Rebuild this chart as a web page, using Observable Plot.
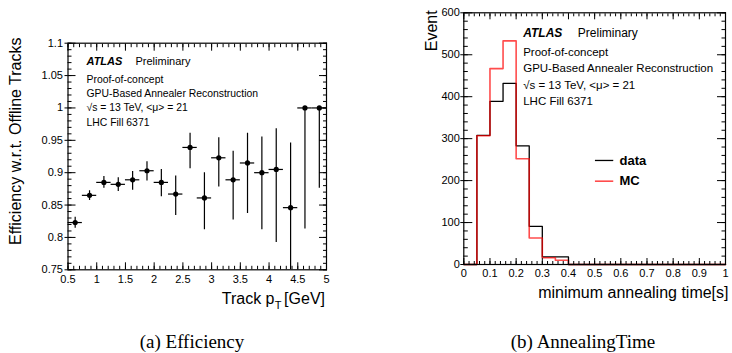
<!DOCTYPE html>
<html><head><meta charset="utf-8">
<script src="https://cdn.jsdelivr.net/npm/d3@7"></script>
<script src="https://cdn.jsdelivr.net/npm/@observablehq/plot@0.6"></script>
<style>
body{margin:0;background:#fff;}
#wrap{position:relative;width:732px;height:353px;overflow:hidden;background:#fff;}
#left,#right{position:absolute;top:0;}
#left{left:0}#right{left:366px}
.cap{position:absolute;font-family:"Liberation Serif","Times New Roman",serif;font-size:19px;line-height:1;white-space:nowrap;transform:translate(-50%,-50%);color:#000}
svg{display:block;overflow:visible}
</style></head><body>
<div id="wrap"><div id="left"></div><div id="right"></div>
<div class="cap" style="left:192px;top:341px">(a) Efficiency</div>
<div class="cap" style="left:583px;top:341px">(b) AnnealingTime</div></div>
<script>
// ---- Panel (a): efficiency vs track pT ----
const ptCenters = [0.625,0.875,1.125,1.375,1.625,1.875,2.125,2.375,2.625,2.875,3.125,3.375,3.625,3.875,4.125,4.375,4.625,4.875];
const ptBinWidth = 0.25;
const effValues = [0.823,0.865,0.885,0.882,0.889,0.903,0.885,0.867,0.939,0.861,0.923,0.889,0.915,0.900,0.905,0.846,1.000,1.000];
const effLow    = [0.814,0.857,0.876,0.871,0.873,0.887,0.863,0.834,0.906,0.812,0.878,0.827,0.837,0.812,0.792,0.740,0.813,0.876];
const effHigh   = [0.831,0.872,0.894,0.892,0.902,0.917,0.905,0.895,0.961,0.900,0.954,0.933,0.961,0.955,0.968,0.946,1.000,1.000];
const effXTicks = [0.5,1,1.5,2,2.5,3,3.5,4,4.5,5];
const effYTicks = [0.75,0.8,0.85,0.9,0.95,1,1.05,1.1];

// ---- Panel (b): minimum annealing time histogram ----
const timeBinLow = [0,0.05,0.1,0.15,0.2,0.25,0.3,0.35,0.4,0.45,0.5,0.55,0.6,0.65,0.7,0.75,0.8,0.85,0.9,0.95];
const timeMax = 1.0;
const dataCounts = [0,308,389,432,283,91,18,18,0,0,0,0,0,0,0,0,0,0,0,0];
const mcCounts   = [0,307,467,533,252,63,16,10,0,0,0,0,0,0,0,0,0,0,0,0];
const timeXTicks = [0,0.1,0.2,0.3,0.4,0.5,0.6,0.7,0.8,0.9,1];
const timeYTicks = [0,100,200,300,400,500,600];

const infoLines = ["Proof-of-concept","GPU-Based Annealer Reconstruction","√s = 13 TeV, <μ> = 21","LHC Fill 6371"];
const legendNames = ["data","MC"];
const legendColors = ["black","#ff0000"];

const font = "Liberation Sans, Arial, sans-serif";
const fmt = d => String(d);

function tickAxes(axis, ticks, anchors, size) {
  return anchors.map(a => axis(ticks, {anchor: a, tickSize: size, tickFormat: () => "", label: null, strokeWidth: 1}));
}

// ---------- Left plot ----------
const eff = ptCenters.map((x, i) => ({x, v: effValues[i], lo: effLow[i], hi: effHigh[i]}));
const xMinorA = d3.range(0.5, 5.0001, 0.1);
const yMinorA = d3.range(0.75, 1.1001, 0.01);

const left = Plot.plot({
  width: 366, height: 310,
  marginLeft: 67.5, marginRight: 40, marginTop: 42.7, marginBottom: 40.7,
  style: {fontFamily: font, fontSize: "11px", background: "white", color: "black"},
  x: {domain: [0.5, 5]},
  y: {domain: [0.75, 1.1]},
  marks: [
    Plot.ruleX(eff, {x: "x", y1: "lo", y2: "hi", stroke: "black", strokeWidth: 1.2, clip: true}),
    Plot.ruleY(eff, {y: "v", x1: d => d.x - ptBinWidth/2, x2: d => d.x + ptBinWidth/2, stroke: "black", strokeWidth: 1.2}),
    Plot.dot(eff, {x: "x", y: "v", r: 2.6, fill: "black", stroke: null}),
    Plot.axisX(effXTicks, {anchor: "bottom", tickSize: 0, tickPadding: 5, tickFormat: fmt, label: null, fontSize: 11}),
    Plot.axisY(effYTicks, {anchor: "left", tickSize: 0, tickPadding: 5, tickFormat: fmt, label: null, fontSize: 11}),
    ...tickAxes(Plot.axisX, effXTicks, ["bottom","top"], -7),
    ...tickAxes(Plot.axisX, xMinorA, ["bottom","top"], -3.5),
    ...tickAxes(Plot.axisY, effYTicks, ["left","right"], -8),
    ...tickAxes(Plot.axisY, effYTicks, ["left"], 3),
    ...tickAxes(Plot.axisY, yMinorA, ["left","right"], -4),
    Plot.frame({stroke: "black", strokeWidth: 1.2}),
    Plot.text(["ATLAS"], {frameAnchor: "top-left", textAnchor: "start", lineAnchor: "middle", dx: 18.5, dy: 18.5, fontSize: 11, fontWeight: "bold", fontStyle: "italic"}),
    Plot.text(["Preliminary"], {frameAnchor: "top-left", textAnchor: "start", lineAnchor: "middle", dx: 67.5, dy: 18.5, fontSize: 11}),
    Plot.text([infoLines.join("\n")], {frameAnchor: "top-left", textAnchor: "start", lineAnchor: "top", dx: 18.5, dy: 29.1, fontSize: 10.4, lineHeight: 1.39}),
    Plot.text(["Efficiency w.r.t. Offline Tracks"], {frameAnchor: "top-left", rotate: -90, textAnchor: "end", lineAnchor: "middle", dx: -52.5, dy: -5.7, fontSize: 16}),
    Plot.text(["[GeV]"], {frameAnchor: "bottom-right", textAnchor: "end", lineAnchor: "middle", dx: -1.5, dy: 28.9, fontSize: 16}),
    Plot.text(["T"], {frameAnchor: "bottom-right", textAnchor: "end", lineAnchor: "middle", dx: -45, dy: 35.5, fontSize: 11}),
    Plot.text(["Track p"], {frameAnchor: "bottom-right", textAnchor: "end", lineAnchor: "middle", dx: -52, dy: 28.9, fontSize: 16})
  ]
});
document.getElementById("left").append(left);

// ---------- Right plot ----------
const stepTable = (counts) => [...timeBinLow.map((t, i) => ({t, n: counts[i]})), {t: timeMax, n: counts[counts.length - 1]}];
const xMinorB = d3.range(0, 1.0001, 0.02);
const yMinorB = d3.range(0, 600.001, 20);

const right = Plot.plot({
  width: 366, height: 310,
  marginLeft: 97.3, marginRight: 7, marginTop: 12.3, marginBottom: 46,
  style: {fontFamily: font, fontSize: "11px", background: "white", color: "black"},
  x: {domain: [0, 1]},
  y: {domain: [0, 600]},
  marks: [
    Plot.line(stepTable(dataCounts), {x: "t", y: "n", curve: "step-after", stroke: legendColors[0], strokeWidth: 1.3}),
    Plot.line(stepTable(mcCounts), {x: "t", y: "n", curve: "step-after", stroke: legendColors[1], strokeWidth: 1.6, strokeOpacity: 0.7}),
    Plot.axisX(timeXTicks, {anchor: "bottom", tickSize: 0, tickPadding: 5, tickFormat: fmt, label: null, fontSize: 11}),
    Plot.axisY(timeYTicks, {anchor: "left", tickSize: 0, tickPadding: 4, tickFormat: fmt, label: null, fontSize: 11}),
    ...tickAxes(Plot.axisX, timeXTicks, ["bottom","top"], -6),
    ...tickAxes(Plot.axisX, xMinorB, ["bottom","top"], -3),
    ...tickAxes(Plot.axisY, timeYTicks, ["left","right"], -9),
    ...tickAxes(Plot.axisY, timeYTicks, ["left"], 3),
    ...tickAxes(Plot.axisY, yMinorB, ["left","right"], -4.5),
    Plot.frame({stroke: "black", strokeWidth: 1.2}),
    Plot.text(["ATLAS"], {frameAnchor: "top-left", textAnchor: "start", lineAnchor: "middle", dx: 59.4, dy: 19.9, fontSize: 12, fontWeight: "bold", fontStyle: "italic"}),
    Plot.text(["Preliminary"], {frameAnchor: "top-left", textAnchor: "start", lineAnchor: "middle", dx: 114, dy: 19.9, fontSize: 12}),
    Plot.text([infoLines.join("\n")], {frameAnchor: "top-left", textAnchor: "start", lineAnchor: "top", dx: 59.4, dy: 31.9, fontSize: 11.5, lineHeight: 1.413}),
    Plot.ruleY([legendNames[0]], {y: 248, x1: 0.503, x2: 0.573, stroke: legendColors[0], strokeWidth: 1.3}),
    Plot.ruleY([legendNames[1]], {y: 198.6, x1: 0.503, x2: 0.573, stroke: legendColors[1], strokeWidth: 1.6, strokeOpacity: 0.7}),
    Plot.text([legendNames[0]], {x: 0.595, y: 248, textAnchor: "start", lineAnchor: "middle", fontSize: 13, fontWeight: "bold"}),
    Plot.text([legendNames[1]], {x: 0.595, y: 198.6, textAnchor: "start", lineAnchor: "middle", fontSize: 13, fontWeight: "bold"}),
    Plot.text(["Event"], {frameAnchor: "top-left", rotate: -90, textAnchor: "end", lineAnchor: "middle", dx: -32.3, dy: -2.5, fontSize: 16}),
    Plot.text(["minimum annealing time[s]"], {frameAnchor: "bottom-right", textAnchor: "end", lineAnchor: "middle", dx: 3, dy: 28.6, fontSize: 16})
  ]
});
document.getElementById("right").append(right);
</script>
</body></html>
